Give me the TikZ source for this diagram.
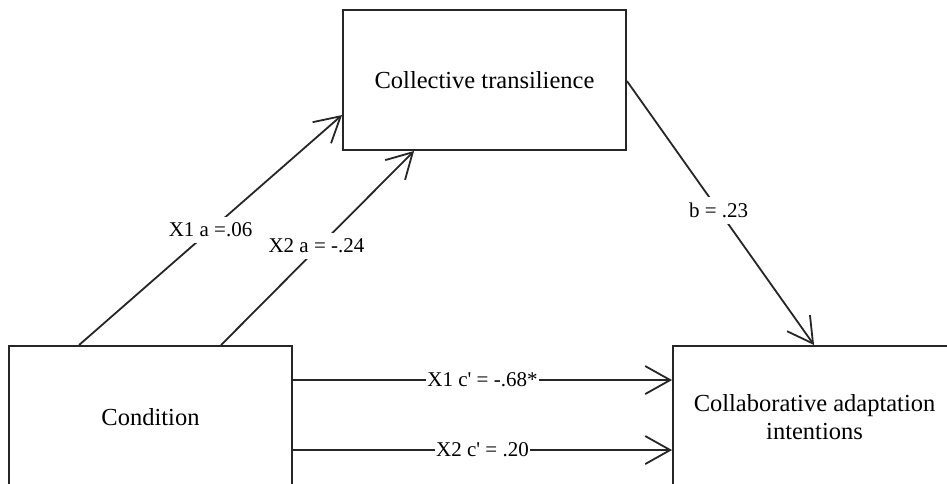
\documentclass[tikz,border=0pt]{standalone}
\usepackage{fontspec}
\setmainfont{Liberation Serif}
\usetikzlibrary{arrows.meta,calc}
\definecolor{ln}{RGB}{38,38,38}
\begin{document}
\begin{tikzpicture}[x=1pt,y=-1pt,
  box/.style={draw=ln,line width=1.9pt,rectangle,minimum width=283pt,minimum height=142pt,
    inner sep=0pt,align=center,font=\fontsize{24.5}{28.5}\selectfont},
  conn/.style={draw=ln,line width=1.8pt,-{Straight Barb[length=25pt,width=28pt]}},
  lbl/.style={fill=white,inner xsep=1pt,inner ysep=6pt,font=\fontsize{21}{25}\selectfont}]
\useasboundingbox (0,0) rectangle (947,484);
\clip (0,0) rectangle (947,484);
\node[box,minimum height=140pt] (ct) at (484.5,80) {Collective transilience};
\node[box] (cond) at (150.5,417) {Condition};
\node[box] (cap) at (814.5,417) {Collaborative adaptation\\intentions};
\draw[conn] ([xshift=71pt]cond.north west) -- node[lbl,pos=0.5] {X1 a =.06} ([yshift=-106pt]ct.north west);
\draw[conn] ([xshift=213pt]cond.north west) -- node[lbl,pos=0.51,xshift=-3pt] {X2 a = -.24} ([xshift=72pt]ct.south west);
\draw[conn] ([yshift=-72pt]ct.north east) -- node[lbl,pos=0.49] {b = .23} ([xshift=142pt]cap.north west);
\coordinate (c1s) at ([yshift=-35pt]cond.north east);
\coordinate (c2s) at ([yshift=-105pt]cond.north east);
\draw[conn] (c1s) -- node[lbl] {X1 c\textquotesingle{} = -.68*} (c1s -| cap.west);
\draw[conn] (c2s) -- node[lbl] {X2 c\textquotesingle{} = .20} (c2s -| cap.west);
\end{tikzpicture}
\end{document}
